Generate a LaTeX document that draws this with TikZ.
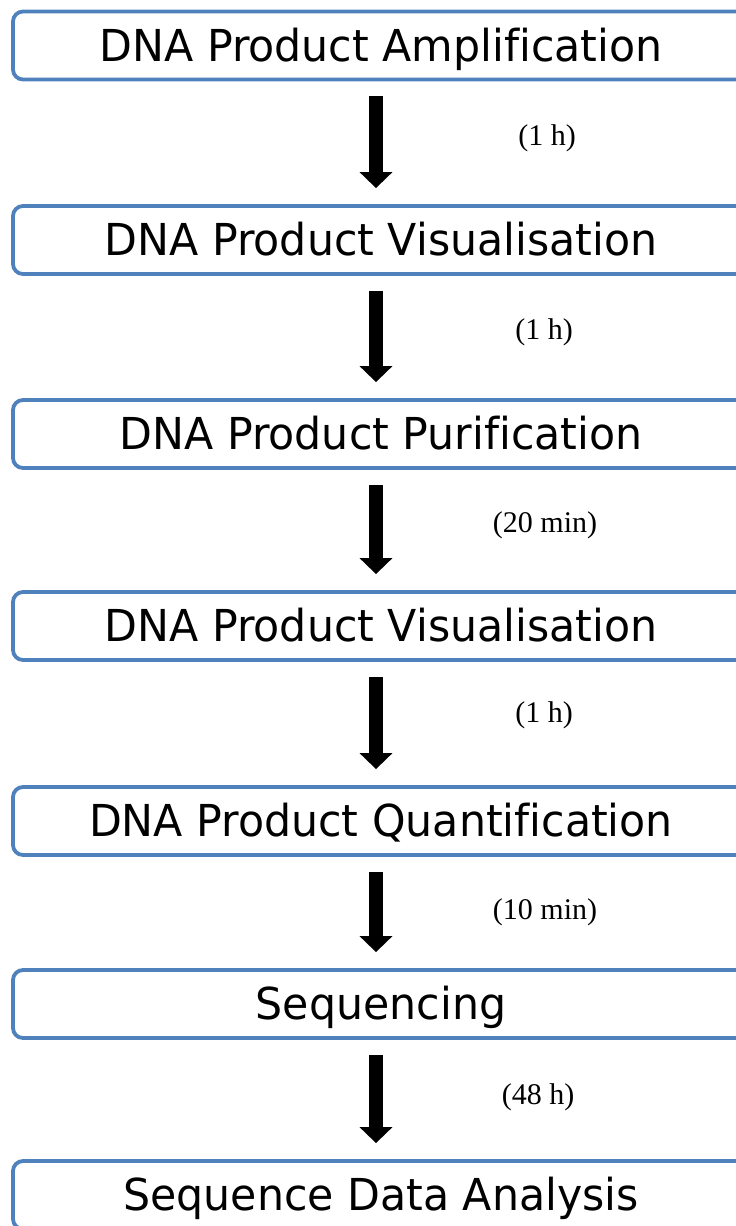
\documentclass[tikz,border=0pt]{standalone}
\usepackage{fontspec}
\setmainfont{Liberation Serif}
\newfontfamily\boxfont[FakeStretch=0.97,Ligatures=NoCommon]{DejaVu Sans}
\usetikzlibrary{arrows.meta}
\definecolor{boxblue}{RGB}{79,129,189}
\tikzset{
  stepbox/.style={draw=boxblue, line width=3.8pt, rounded corners=10pt, fill=white,
    minimum width=736pt, minimum height=68pt, inner sep=0pt,
    text height=34pt, text depth=3pt,
    font=\boxfont\fontsize{44}{50}\selectfont},
  flowarrow/.style={line width=14pt, -{Triangle[width=32pt,length=16pt]},
    shorten <=15pt, shorten >=16pt},
  lbl/.style={font=\fontsize{30}{34}\selectfont, inner sep=0pt}
}
\begin{document}
\begin{tikzpicture}[x=1pt,y=-1pt]
\useasboundingbox (0,0) rectangle (736,1226);
\clip (0,0) rectangle (736,1226);
\node[stepbox] (b1) at (381,45.5) {DNA Product Amplification};
\node[stepbox] (b2) at (381,240) {DNA Product Visualisation};
\node[stepbox] (b3) at (381,434) {DNA Product Purification};
\node[stepbox] (b4) at (381,626) {DNA Product Visualisation};
\node[stepbox] (b5) at (381,821) {DNA Product Quantification};
\node[stepbox] (b6) at (381,1004) {Sequencing};
\node[stepbox] (b7) at (381,1195) {Sequence Data Analysis};
\foreach \a/\b in {b1/b2,b2/b3,b3/b4,b4/b5,b5/b6,b6/b7}{
  \draw[flowarrow, transform canvas={xshift=-5pt}] (\a.south) -- (\b.north);
}
\node[lbl] (l1) at (547,138) {(1 h)};
\node[lbl] (l2) at (544,332) {(1 h)};
\node[lbl] (l3) at (545,525) {(20 min)};
\node[lbl] (l4) at (544,715) {(1 h)};
\node[lbl] (l5) at (545,912) {(10 min)};
\node[lbl] (l6) at (538,1097) {(48 h)};
\end{tikzpicture}
\end{document}
